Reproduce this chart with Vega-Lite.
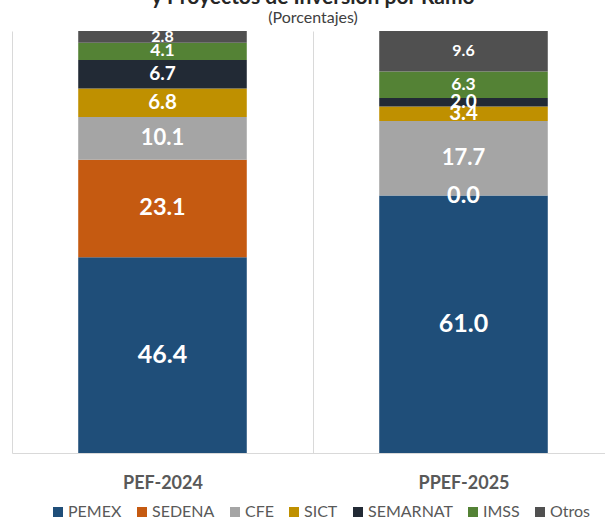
{
  "$schema": "https://vega.github.io/schema/vega-lite/v6.json",
  "autosize": {"type": "none"},
  "padding": {"left": 12, "top": 31, "right": 0, "bottom": 67},
  "width": 602,
  "height": 422,
  "title": {
    "text": "y Proyectos de Inversión por Ramo",
    "subtitle": "(Porcentajes)",
    "anchor": "middle",
    "font": "Lato",
    "fontSize": 21,
    "fontWeight": "bold",
    "color": "#262626",
    "subtitleFont": "Lato",
    "subtitleFontSize": 16,
    "subtitleColor": "#404040",
    "subtitlePadding": 2,
    "offset": 3
  },
  "config": {
    "view": {"stroke": null},
    "font": "Lato"
  },
  "data": {
    "values": [
      {"periodo": "PEF-2024", "ramo": "PEMEX", "orden": 1, "valor": 46.4},
      {"periodo": "PEF-2024", "ramo": "SEDENA", "orden": 2, "valor": 23.1},
      {"periodo": "PEF-2024", "ramo": "CFE", "orden": 3, "valor": 10.1},
      {"periodo": "PEF-2024", "ramo": "SICT", "orden": 4, "valor": 6.8},
      {"periodo": "PEF-2024", "ramo": "SEMARNAT", "orden": 5, "valor": 6.7},
      {"periodo": "PEF-2024", "ramo": "IMSS", "orden": 6, "valor": 4.1},
      {"periodo": "PEF-2024", "ramo": "Otros", "orden": 7, "valor": 2.8},
      {"periodo": "PPEF-2025", "ramo": "PEMEX", "orden": 1, "valor": 61.0},
      {"periodo": "PPEF-2025", "ramo": "SEDENA", "orden": 2, "valor": 0.0},
      {"periodo": "PPEF-2025", "ramo": "CFE", "orden": 3, "valor": 17.7},
      {"periodo": "PPEF-2025", "ramo": "SICT", "orden": 4, "valor": 3.4},
      {"periodo": "PPEF-2025", "ramo": "SEMARNAT", "orden": 5, "valor": 2.0},
      {"periodo": "PPEF-2025", "ramo": "IMSS", "orden": 6, "valor": 6.3},
      {"periodo": "PPEF-2025", "ramo": "Otros", "orden": 7, "valor": 9.6}
    ]
  },
  "encoding": {
    "x": {
      "field": "periodo",
      "type": "nominal",
      "title": null,
      "scale": {"padding": 0},
      "axis": {
        "labelAngle": 0,
        "labelFont": "Lato",
        "labelFontSize": 18,
        "labelFontWeight": "bold",
        "labelColor": "#595959",
        "labelPadding": 21,
        "ticks": false,
        "domainColor": "#D9D9D9",
        "domainWidth": 1,
        "grid": true,
        "gridColor": "#D9D9D9",
        "gridWidth": 1,
        "tickBand": "extent"
      }
    },
    "y": {
      "field": "valor",
      "type": "quantitative",
      "stack": "zero",
      "scale": {"domain": [0, 100], "nice": false},
      "axis": null
    },
    "order": {"field": "orden", "type": "quantitative", "sort": "ascending"}
  },
  "layer": [
    {
      "mark": {"type": "bar", "width": {"band": 0.56}},
      "encoding": {
        "color": {
          "field": "ramo",
          "type": "nominal",
          "scale": {
            "domain": ["PEMEX", "SEDENA", "CFE", "SICT", "SEMARNAT", "IMSS", "Otros"],
            "range": ["#1F4E79", "#C55A11", "#A5A5A5", "#BF9000", "#222A35", "#548235", "#505050"]
          },
          "legend": {
            "title": null,
            "orient": "none",
            "direction": "horizontal",
            "legendX": 38,
            "legendY": 473,
            "symbolType": "square",
            "symbolSize": 100,
            "symbolStrokeWidth": 0,
            "labelFont": "Lato",
            "labelFontSize": 16,
            "labelColor": "#595959",
            "labelOffset": 2,
            "columnPadding": 12,
            "padding": 0
          }
        }
      }
    },
    {
      "mark": {"type": "text", "color": "white", "fontWeight": "bold", "font": "Lato", "baseline": "middle"},
      "encoding": {
        "y": {"field": "valor", "type": "quantitative", "stack": "zero", "bandPosition": 0.5},
        "text": {"field": "valor", "type": "quantitative", "format": ".1f"},
        "size": {
          "field": "orden",
          "type": "ordinal",
          "scale": {
            "domain": [1, 2, 3, 4, 5, 6, 7],
            "range": [25, 16, 17, 14, 14, 14, 12]
          },
          "legend": null
        }
      }
    }
  ]
}
